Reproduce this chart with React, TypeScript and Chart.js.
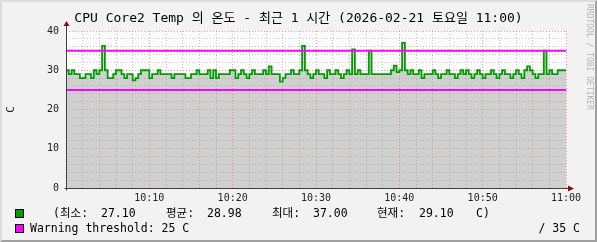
import React, { useEffect, useRef } from 'react';
import { Chart, registerables } from 'chart.js';

Chart.register(...registerables);

const titleText = 'CPU Core2 Temp 의 온도 - 최근 1 시간 (2026-02-21 토요일 11:00)';
const yAxisTitle = 'C';
const watermark = 'RRDTOOL / TOBI OETIKER';

// one sample every 20 seconds from 10:00 to 11:00
const sampleSeconds = 20;
const temps = [
  29, 30, 29, 30, 29, 29, 28, 28, 29, 29,
  28, 30, 29, 30, 36.2, 30, 28, 28, 29, 30,
  30, 29, 28, 29, 29, 27.4, 28, 29, 30, 30,
  30, 28, 29, 29, 30, 29, 29, 29, 29, 28,
  29, 29, 29, 29, 28, 28, 29, 29, 30, 29,
  29, 29, 30, 28, 30, 28, 29, 29, 29, 29,
  30, 30, 28, 29, 30, 29, 28, 29, 30, 29,
  29, 29, 30, 29, 31, 29, 29, 29, 27.1, 28,
  29, 29, 30, 29, 29, 30, 36.2, 30, 29, 28,
  29, 30, 29, 29, 28, 30, 29, 29, 30, 29,
  28, 29, 30, 29, 35.3, 29, 30, 29, 29, 29,
  35, 29, 29, 29, 29, 29, 29, 29, 30, 31.2,
  29.5, 30, 37, 30, 29, 30, 29, 29, 30, 28,
  29, 29, 29, 30, 29, 28, 29, 29, 30, 29,
  29, 28, 29, 30, 29, 30, 29, 28, 29, 30,
  29, 28, 29, 29, 30, 29, 28, 29, 30, 29,
  29, 28, 29, 30, 29, 28, 30, 31, 30, 29,
  28, 29, 29, 35, 29, 30, 29, 29, 30, 30,
];

const thresholdLow = 25;
const thresholdHigh = 35;

const xMinMinutes = 0;
const xMaxMinutes = 60;
const xTickMinutes = [10, 20, 30, 40, 50, 60];
const xTickLabels = ['10:10', '10:20', '10:30', '10:40', '10:50', '11:00'];
const yTickValues = [0, 10, 20, 30, 40];

const statLabels = ['최소:', '평균:', '최대:', '현재:'];
const statValues = ['27.10', '28.98', '37.00', '29.10'];
const unitLabel = 'C';
const warningLabel = 'Warning threshold:';

const MONO = "'DejaVu Sans Mono', 'Noto Sans CJK KR', monospace";
const GREEN = '#009c00';
const MAGENTA = '#ff00ff';

const plotBgPlugin = {
  id: 'plotBg',
  beforeDraw(chart: any) {
    const { ctx, chartArea: a } = chart;
    ctx.save();
    ctx.fillStyle = '#ffffff';
    ctx.fillRect(a.left, a.top, a.right - a.left, a.bottom - a.top);
    ctx.restore();
  },
};

const axesPlugin = {
  id: 'rrdAxes',
  afterDatasetsDraw(chart: any) {
    const { ctx, chartArea: a } = chart;
    ctx.save();
    ctx.strokeStyle = '#404040';
    ctx.lineWidth = 1;
    const x0 = Math.round(a.left) + 0.5;
    const y0 = Math.round(a.bottom) + 0.5;
    ctx.beginPath();
    ctx.moveTo(x0, y0 + 2);
    ctx.lineTo(x0, a.top - 5);
    ctx.moveTo(x0 - 2, y0);
    ctx.lineTo(a.right + 2, y0);
    ctx.stroke();
    ctx.fillStyle = '#8b1010';
    ctx.beginPath();
    ctx.moveTo(x0 - 3, a.top - 5);
    ctx.lineTo(x0 + 3, a.top - 5);
    ctx.lineTo(x0, a.top - 10);
    ctx.closePath();
    ctx.fill();
    ctx.beginPath();
    ctx.moveTo(a.right + 2, y0 - 3);
    ctx.lineTo(a.right + 2, y0 + 3);
    ctx.lineTo(a.right + 8, y0);
    ctx.closePath();
    ctx.fill();
    ctx.restore();
  },
};

export default function App() {
  const canvasRef = useRef<HTMLCanvasElement | null>(null);

  useEffect(() => {
    document.body.style.margin = '0';
    const canvas = canvasRef.current;
    if (!canvas) return;

    const tempPoints = temps.map((v, i) => ({ x: (i * sampleSeconds) / 60, y: v }));
    tempPoints.push({ x: xMaxMinutes, y: temps[temps.length - 1] });

    const gridColor = (ctx: any) =>
      ctx.tick && ctx.tick.value % 10 === 0 ? 'rgba(255,70,70,0.55)' : 'rgba(120,120,120,0.42)';

    const chart = new Chart(canvas, {
      type: 'line',
      data: {
        datasets: [
          {
            label: 'warn-low',
            data: [
              { x: xMinMinutes, y: thresholdLow },
              { x: xMaxMinutes, y: thresholdLow },
            ],
            borderColor: MAGENTA,
            borderWidth: 2,
            pointRadius: 0,
            fill: false,
            order: 0,
          },
          {
            label: 'warn-high',
            data: [
              { x: xMinMinutes, y: thresholdHigh },
              { x: xMaxMinutes, y: thresholdHigh },
            ],
            borderColor: MAGENTA,
            borderWidth: 2,
            pointRadius: 0,
            fill: false,
            order: 0,
          },
          {
            label: 'temp',
            data: tempPoints,
            borderColor: GREEN,
            borderWidth: 1.8,
            backgroundColor: 'rgba(150,150,150,0.45)',
            fill: 'origin',
            stepped: 'after',
            pointRadius: 0,
            order: 1,
          },
        ],
      },
      options: {
        responsive: false,
        animation: false,
        events: [],
        layout: { padding: 0 },
        plugins: {
          legend: { display: false },
          tooltip: { enabled: false },
          title: {
            display: true,
            text: titleText,
            color: '#000',
            font: { family: MONO, size: 13, weight: 'normal' },
            padding: { top: 11, bottom: 4.4 },
          },
        },
        scales: {
          x: {
            type: 'linear',
            min: xMinMinutes,
            max: xMaxMinutes,
            afterFit: (s: any) => {
              s.height = 54;
            },
            ticks: {
              stepSize: 2,
              autoSkip: false,
              maxRotation: 0,
              minRotation: 0,
              padding: 2,
              color: '#222',
              font: { family: MONO, size: 10 },
              callback: (v: any) => {
                const k = xTickMinutes.indexOf(Number(v));
                return k >= 0 ? xTickLabels[k] : '';
              },
            },
            grid: {
              color: gridColor,
              lineWidth: 1,
              tickLength: 2,
              tickColor: 'rgba(0,0,0,0)',
            },
            border: { display: false, dash: [1, 2] },
          },
          y: {
            type: 'linear',
            position: 'left',
            min: 0,
            max: 40,
            afterFit: (s: any) => {
              s.width = 66;
            },
            ticks: {
              stepSize: 2,
              autoSkip: false,
              padding: 4,
              color: '#222',
              font: { family: MONO, size: 10 },
              callback: (v: any) => (yTickValues.includes(Number(v)) ? String(v) : ''),
            },
            grid: {
              color: gridColor,
              lineWidth: 1,
              tickLength: 3,
              tickColor: 'rgba(0,0,0,0)',
            },
            border: { display: false, dash: [1, 2] },
            title: {
              display: true,
              text: yAxisTitle,
              color: '#222',
              font: { family: MONO, size: 11 },
              padding: { top: 5, bottom: 0 },
            },
          },
          y2: {
            type: 'linear',
            position: 'right',
            display: true,
            afterFit: (s: any) => {
              s.width = 31;
            },
            ticks: { display: false },
            grid: { display: false, drawOnChartArea: false },
            border: { display: false },
          },
        },
      },
      plugins: [plotBgPlugin, axesPlugin],
    } as any);

    return () => chart.destroy();
  }, []);

  const labelX = [60, 166, 272, 377];
  const valueX = [101, 207, 313, 419];
  const textStyle: React.CSSProperties = {
    position: 'absolute',
    fontFamily: MONO,
    fontSize: '11.5px',
    lineHeight: '14px',
    color: '#000',
    whiteSpace: 'pre',
  };

  return (
    <div
      style={{
        position: 'fixed',
        left: 0,
        top: 0,
        width: 597,
        height: 242,
        background: '#f2f2f2',
        overflow: 'hidden',
      }}
    >
      <canvas ref={canvasRef} width={597} height={242} style={{ position: 'absolute', left: 0, top: 0 }} />
      <div
        style={{
          position: 'absolute',
          left: 0,
          top: 0,
          width: 597,
          height: 242,
          boxSizing: 'border-box',
          borderTop: '2px solid #dcdcdc',
          borderLeft: '2px solid #dcdcdc',
          borderRight: '2px solid #a0a0a0',
          borderBottom: '2px solid #a0a0a0',
          pointerEvents: 'none',
        }}
      />
      <div
        style={{
          position: 'absolute',
          left: 585,
          top: 4,
          writingMode: 'vertical-rl',
          fontFamily: MONO,
          fontSize: '8px',
          color: '#b4b4b4',
          whiteSpace: 'pre',
        }}
      >
        {watermark}
      </div>

      <div
        style={{
          position: 'absolute',
          left: 15,
          top: 209,
          width: 9,
          height: 9,
          boxSizing: 'border-box',
          border: '1px solid #000',
          background: GREEN,
        }}
      />
      <div style={{ ...textStyle, left: 53, top: 206 }}>(</div>
      {statLabels.map((l, i) => (
        <div key={'l' + i} style={{ ...textStyle, left: labelX[i], top: 206 }}>
          {l}
        </div>
      ))}
      {statValues.map((v, i) => (
        <div key={'v' + i} style={{ ...textStyle, left: valueX[i], top: 206 }}>
          {v}
        </div>
      ))}
      <div style={{ ...textStyle, left: 476, top: 206 }}>{unitLabel + ')'}</div>

      <div
        style={{
          position: 'absolute',
          left: 15,
          top: 224,
          width: 9,
          height: 9,
          boxSizing: 'border-box',
          border: '1px solid #000',
          background: MAGENTA,
        }}
      />
      <div style={{ ...textStyle, left: 30, top: 221 }}>
        {`${warningLabel} ${thresholdLow} ${unitLabel}`}
      </div>
      <div style={{ ...textStyle, right: 17, top: 221 }}>{`/ ${thresholdHigh} ${unitLabel}`}</div>
    </div>
  );
}
